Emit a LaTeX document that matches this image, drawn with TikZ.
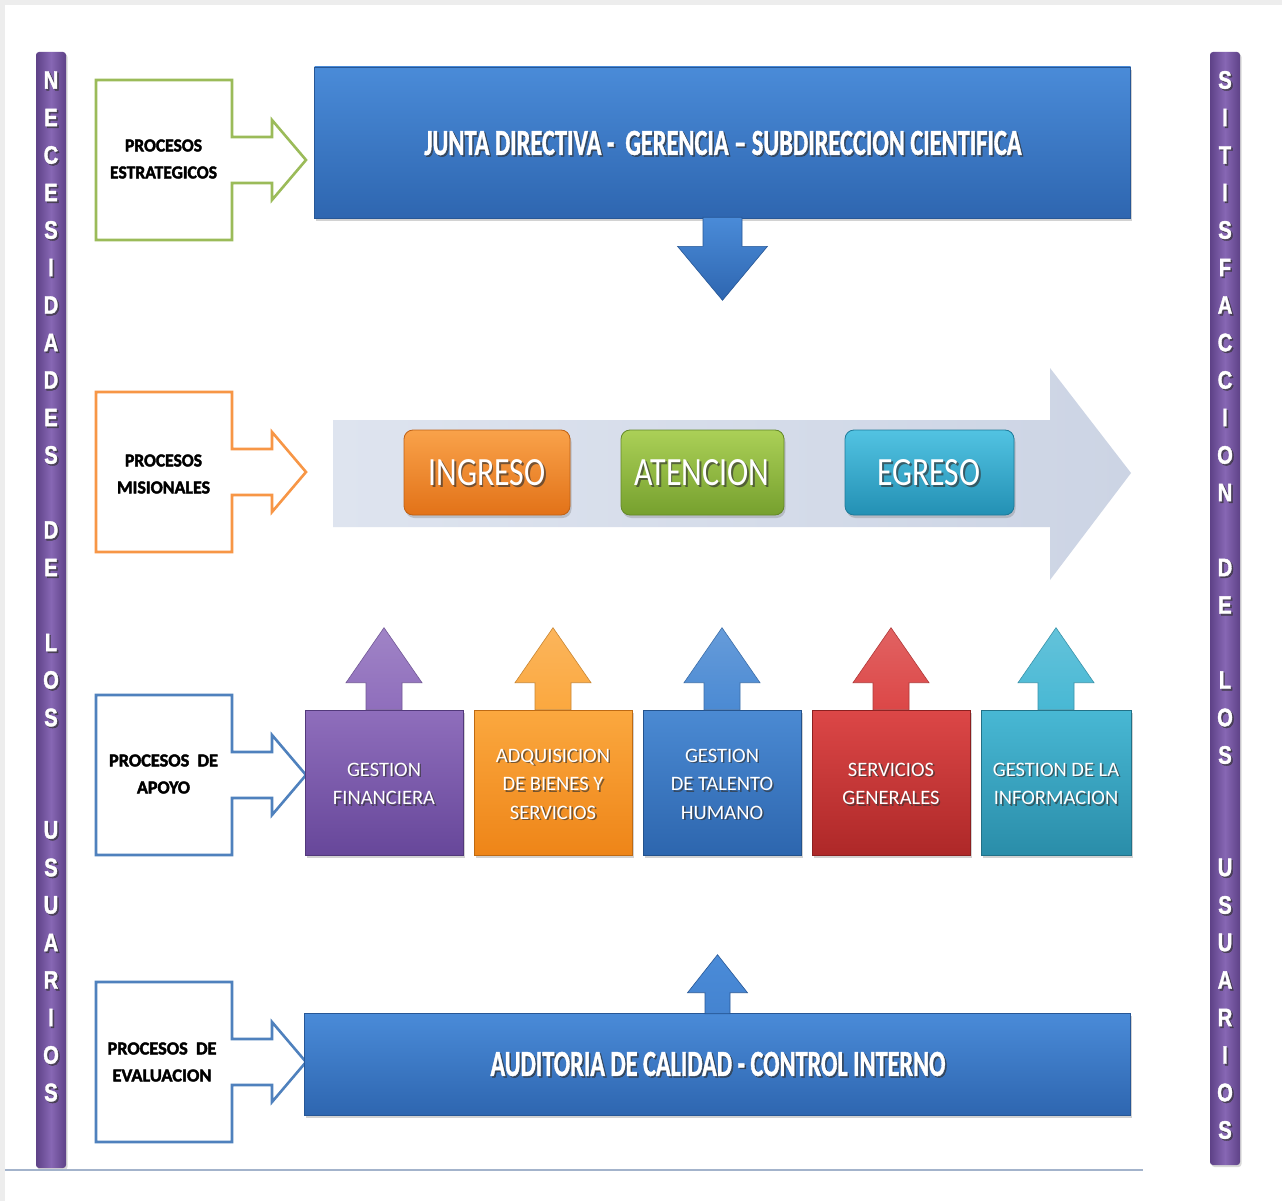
\documentclass[tikz,border=0pt]{standalone}
\usepackage{fontspec}
\usepackage{graphicx}
\usetikzlibrary{shadows,calc}
\newfontfamily\calfont{Carlito}
\newfontfamily\heavyfont[BoldFeatures={FakeBold=2.2}]{Carlito}
\newfontfamily\titlefont[BoldFeatures={FakeBold=1.4}]{Carlito}
\newfontfamily\barfont[BoldFeatures={FakeBold=1.6}]{Liberation Sans}
\definecolor{barC}{HTML}{8767B4}
\definecolor{barE}{HTML}{5E4287}
\definecolor{gO}{HTML}{9BBB59}
\definecolor{oO}{HTML}{F79646}
\definecolor{bO}{HTML}{4F81BD}
\definecolor{bT}{HTML}{4A8BD8}
\definecolor{bB}{HTML}{2E66B0}
\definecolor{lArrL}{HTML}{DEE4EF}
\definecolor{lArrR}{HTML}{CCD4E4}
\definecolor{puT}{HTML}{8F6EBC}
\definecolor{puB}{HTML}{67479A}
\definecolor{orT}{HTML}{FBA83F}
\definecolor{orB}{HTML}{EE8518}
\definecolor{blT}{HTML}{4B8AD3}
\definecolor{blB}{HTML}{2D66AE}
\definecolor{reT}{HTML}{DC4747}
\definecolor{reB}{HTML}{AE2828}
\definecolor{teT}{HTML}{48B8D4}
\definecolor{teB}{HTML}{2A8DA9}
\definecolor{inT}{HTML}{F9A24A}
\definecolor{inB}{HTML}{E27218}
\definecolor{atT}{HTML}{ABD057}
\definecolor{atB}{HTML}{76A02E}
\definecolor{egT}{HTML}{52C3E2}
\definecolor{egB}{HTML}{2390B4}
\definecolor{lineC}{HTML}{A3B3CB}
\newcommand\rb[3]{\resizebox{#1pt}{#2pt}{#3}}
\newcommand\shnode[4]{%
  \node[#3, text=black!80, opacity=0.65] (#1s) at ($(#2)+(1.6,1.6)$) {#4};
  \node[#3, text=white] (#1) at (#2) {#4};}
\newcommand\uparr[6]{% node, half shaft, shaft len, half head, total len, colour
  \shade[top color=#6!85!white, bottom color=#6, draw=#6!80!black, line width=0.6pt]
   ($(#1.north)+(-#2,0)$) -- ($(#1.north)+(-#2,-#3)$) -- ($(#1.north)+(-#4,-#3)$)
   -- ($(#1.north)+(0,-#5)$) -- ($(#1.north)+(#4,-#3)$) -- ($(#1.north)+(#2,-#3)$)
   -- ($(#1.north)+(#2,0)$) -- cycle;}
\newcommand\procbox[2]{%
  \draw[#1, line width=2.6pt, line join=miter]
   (96,#2-80) -- (232,#2-80) -- (232,#2-23) -- (272,#2-23) -- (272,#2-40)
   -- (306,#2) -- (272,#2+40) -- (272,#2+23) -- (232,#2+23) -- (232,#2+80)
   -- (96,#2+80) -- cycle;}
\tikzset{
  lbl/.style={font=\heavyfont\bfseries\fontsize{10}{27}\selectfont, text=black, inner sep=0pt, align=center},
  big/.style={font=\titlefont\bfseries, inner sep=0pt},
  pill/.style={font=\calfont, inner sep=0pt},
  stxt/.style={font=\calfont\fontsize{20.5}{28.5}\selectfont, inner sep=0pt, align=center},
  bartxt/.style={font=\barfont\bfseries\fontsize{23}{23}\selectfont, inner sep=0pt},
  dshadow/.style={drop shadow={opacity=0.35, shadow xshift=1.5pt, shadow yshift=-3pt}},
  bluebox/.style={rectangle, draw=bB!85!black, line width=0.6pt, top color=bT, bottom color=bB, dshadow},
  sbox/.style={rectangle, minimum width=158pt, minimum height=145pt, line width=0.6pt, dshadow},
  rbox/.style={rectangle, rounded corners=9pt, minimum width=166pt, minimum height=85pt, line width=0.8pt, dshadow},
}
\begin{document}
\begin{tikzpicture}[x=1pt,y=-1pt]
\useasboundingbox (0,0) rectangle (1282,1201);
\fill[black!7] (0,0) rectangle (1282,1201);
\fill[white] (5,5) rectangle (1282,1201);

% vertical bars
\shade[left color=barE, right color=barE, middle color=barC, rounded corners=3pt,
  drop shadow={opacity=0.3, shadow xshift=1.5pt, shadow yshift=-2pt}] (36,52) rectangle (66,1168);
\shade[left color=barE, right color=barE, middle color=barC, rounded corners=3pt,
  drop shadow={opacity=0.3, shadow xshift=1.5pt, shadow yshift=-2pt}] (1210,52) rectangle (1240,1165);
\foreach \ch/\k in {N/0,E/1,C/2,E/3,S/4,I/5,D/6,A/7,D/8,E/9,S/10,D/12,E/13,L/15,O/16,S/17,U/20,S/21,U/22,A/23,R/24,I/25,O/26,S/27}{
  \shnode{lb\k}{51,80+\k*37.5}{bartxt}{\scalebox{0.88}[1.1]{\ch}}
}
\foreach \ch/\k in {S/0,I/1,T/2,I/3,S/4,F/5,A/6,C/7,C/8,I/9,O/10,N/11,D/13,E/14,L/16,O/17,S/18,U/21,S/22,U/23,A/24,R/25,I/26,O/27,S/28}{
  \shnode{rb\k}{1225,80+\k*37.5}{bartxt}{\scalebox{0.88}[1.1]{\ch}}
}

% left process boxes
\procbox{gO}{160}
\procbox{oO}{472}
\procbox{bO}{775}
\procbox{bO}{1062}
\node[lbl] (p1) at (163.5,159) {\rb{77}{12}{PROCESOS}\\\rb{107}{12}{ESTRATEGICOS}};
\node[lbl] (p2) at (163.5,474) {\rb{77}{12}{PROCESOS}\\\rb{93}{12}{MISIONALES}};
\node[lbl] (p3) at (163.5,774) {\rb{109}{12}{PROCESOS\ \ DE}\\\rb{53}{12}{APOYO}};
\node[lbl] (p4) at (162,1062) {\rb{109}{12}{PROCESOS\ \ DE}\\\rb{99}{12}{EVALUACION}};

% top block
\node[bluebox, minimum width=816pt, minimum height=151pt] (top) at (722.5,142.5) {};
\shade[top color=bT, bottom color=bB, draw=bB!85!black, line width=0.6pt]
  ($(top.south)+(-19.5,-1)$) -- ($(top.south)+(-19.5,28)$) -- ($(top.south)+(-45,28)$)
  -- ($(top.south)+(0,82)$) -- ($(top.south)+(45,28)$) -- ($(top.south)+(19.5,28)$)
  -- ($(top.south)+(19.5,-1)$) -- cycle;
\shnode{tj}{723,143}{big}{\rb{597}{24}{JUNTA DIRECTIVA -\ \ GERENCIA – SUBDIRECCION CIENTIFICA}}

% big light arrow
\shade[left color=lArrL, right color=lArrR]
  (333,420) -- (1050,420) -- (1050,368) -- (1131,473) -- (1050,580) -- (1050,527) -- (333,527) -- cycle;
\node[rbox, top color=inT, bottom color=inB, draw=inB!85!black] (ing) at (487,472.5) {};
\node[rbox, minimum width=163pt, top color=atT, bottom color=atB, draw=atB!85!black] (ate) at (702.5,472.5) {};
\node[rbox, minimum width=169pt, top color=egT, bottom color=egB, draw=egB!85!black] (egr) at (929.5,472.5) {};
\shnode{ingt}{487,473}{pill}{\rb{117}{26}{INGRESO}}
\shnode{atet}{702,473}{pill}{\rb{135}{26}{ATENCION}}
\shnode{egrt}{929,473}{pill}{\rb{103}{26}{EGRESO}}

% support boxes
\coordinate (c1) at (384,782.5);
\coordinate (c2) at (553,782.5);
\coordinate (c3) at (722,782.5);
\coordinate (c4) at (891,782.5);
\coordinate (c5) at (1056,782.5);
\node[sbox, top color=puT, bottom color=puB, draw=puB!80!black] (s1) at (c1) {};
\node[sbox, top color=orT, bottom color=orB, draw=orB!80!black] (s2) at (c2) {};
\node[sbox, top color=blT, bottom color=blB, draw=blB!80!black] (s3) at (c3) {};
\node[sbox, top color=reT, bottom color=reB, draw=reB!80!black] (s4) at (c4) {};
\node[sbox, minimum width=150pt, top color=teT, bottom color=teB, draw=teB!80!black] (s5) at (c5) {};
\uparr{s1}{18}{27}{38}{82}{puT}
\uparr{s2}{18}{27}{38}{82}{orT}
\uparr{s3}{18}{27}{38}{82}{blT}
\uparr{s4}{18}{27}{38}{82}{reT}
\uparr{s5}{18}{27}{38}{82}{teT}
\shnode{s1t}{384,784}{stxt}{GESTION\\FINANCIERA}
\shnode{s2t}{553,784}{stxt}{ADQUISICION\\DE BIENES Y\\SERVICIOS}
\shnode{s3t}{722,784}{stxt}{GESTION\\DE TALENTO\\HUMANO}
\shnode{s4t}{891,784}{stxt}{SERVICIOS\\GENERALES}
\shnode{s5t}{1056,784}{stxt}{GESTION DE LA\\INFORMACION}

% bottom block
\node[bluebox, minimum width=826pt, minimum height=102pt] (aud) at (717.5,1064) {};
\shade[top color=bT, bottom color=bT!80!bB, draw=bB!85!black, line width=0.6pt]
  ($(aud.north)+(-12.5,1)$) -- ($(aud.north)+(-12.5,-20)$) -- ($(aud.north)+(-30,-20)$)
  -- ($(aud.north)+(0,-58)$) -- ($(aud.north)+(30,-20)$) -- ($(aud.north)+(12.5,-20)$)
  -- ($(aud.north)+(12.5,1)$) -- cycle;
\shnode{aut}{718,1064}{big}{\rb{455}{24}{AUDITORIA DE CALIDAD - CONTROL INTERNO}}

% bottom rule
\draw[lineC, line width=1.6pt] (5,1170) -- (1143,1170);
\end{tikzpicture}
\end{document}
